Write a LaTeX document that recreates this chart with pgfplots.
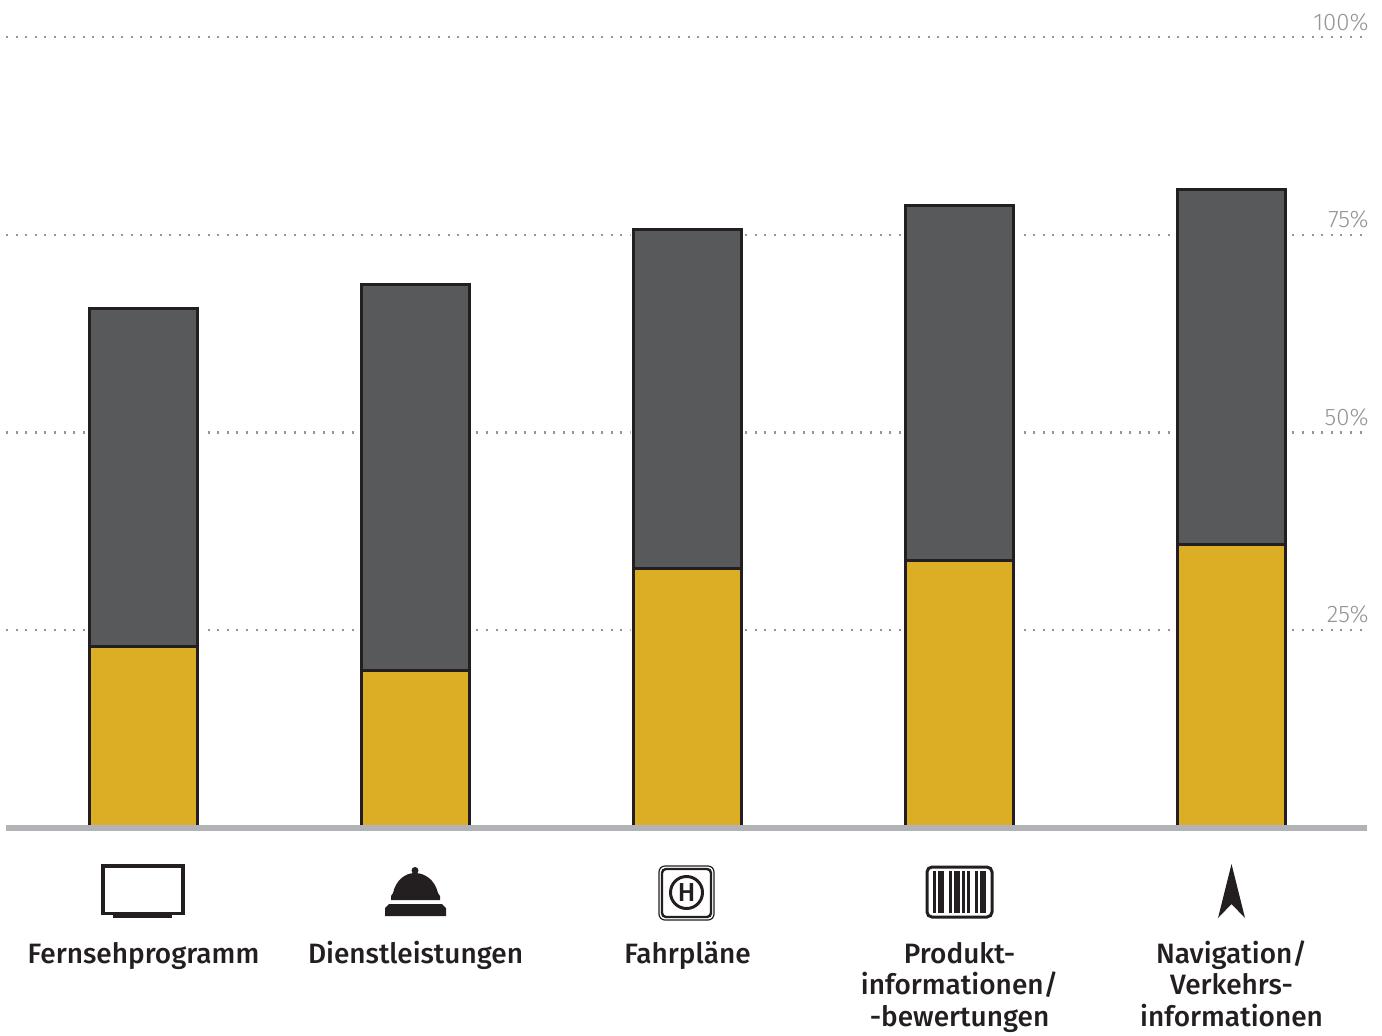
\documentclass[border=0pt]{standalone}
\usepackage{pgfplots}
\pgfplotsset{compat=1.18}
\usepackage{fontspec}
\setmainfont{Fira Sans}
\newfontfamily\labelfont{Fira Sans Medium}
\newfontfamily\tickfont{Fira Sans Light}
\definecolor{gold}{HTML}{DBAE26}
\definecolor{dgrey}{HTML}{58595B}
\definecolor{edge}{HTML}{231F20}
\definecolor{base}{HTML}{B1B3B6}
\definecolor{ticktxt}{HTML}{939598}
\pgfplotstableread{
x total first
0 65.7 22.9
1 68.7 19.9
2 75.7 32.8
3 78.7 33.8
4 80.7 35.8
}\datatable
\begin{document}
\begin{tikzpicture}
\path[use as bounding box] (0,0) rectangle (691pt,-517.5pt);
\begin{axis}[
  at={(3pt,-414pt)}, anchor=south west, scale only axis,
  width=680.5pt, height=395.5pt,
  xmin=-0.5055, xmax=4.498, ymin=0, ymax=100,
  axis x line=bottom, axis y line=none, axis on top,
  axis line style={draw=base, line width=2.6pt, -},
  xtick={0,1,2,3,4},
  xticklabels={\vphantom{/}Fernsehprogramm,\vphantom{/}Dienstleistungen,\vphantom{/}Fahrpläne,\vphantom{/}Produkt-\\informationen/\\-bewertungen,Navigation/\\Verkehrs-\\informationen},
  x tick style={draw=none},
  xticklabel style={align=center, font=\labelfont\fontsize{14}{15.8}\selectfont, text=edge, anchor=north, yshift=-50.6pt},
  ytick=\empty,
  clip=false,
]
% dotted gridlines, interrupted by the white halo of the bars
\addplot[forget plot, line width=1.2pt, draw=ticktxt, dash pattern=on 1pt off 3.8pt] coordinates {(-0.5055,25) (4.498,25) };
\addplot[forget plot, line width=1.2pt, draw=ticktxt, dash pattern=on 1pt off 3.8pt] coordinates {(-0.5055,50) (4.498,50) };
\addplot[forget plot, line width=1.2pt, draw=ticktxt, dash pattern=on 1pt off 3.8pt] coordinates {(-0.5055,75) (4.498,75) };
\addplot[forget plot, line width=1.2pt, draw=ticktxt, dash pattern=on 1pt off 3.8pt] coordinates {(-0.5055,100) (4.498,100) };
\addplot[forget plot, ybar, bar shift=0pt, bar width=57pt, fill=white, draw=none] table[x=x,y=total] {\datatable};
\addplot[ybar, bar shift=0pt, bar width=54.2pt, fill=dgrey, draw=edge, line width=1.6pt] table[x=x,y=total] {\datatable};
\addplot[ybar, bar shift=0pt, bar width=54.2pt, fill=gold, draw=edge, line width=1.6pt] table[x=x,y=first] {\datatable};
\end{axis}
\begin{scope}[x=0.5pt,y=-0.5pt]
% right-hand scale labels
\foreach \yy/\lab in {30/100\%,227.5/75\%,425.5/50\%,622.5/25\%}
  \node[anchor=base east, inner sep=0pt, text=ticktxt, font=\tickfont\fontsize{12}{12}\selectfont] at (1369,\yy) {\lab};
% icons
\draw[edge, line width=1.9pt] (103,866) rectangle (183,913.5);
\fill[edge] (113,915) rectangle (172,918);
\fill[edge] (415,870.5) circle[radius=3.5];
\fill[edge] (391,900) -- (391,896) -- (393,893) .. controls (396,880) and (405,873) .. (415,873) .. controls (425,873) and (435,880) .. (438,893) -- (440,896) -- (440,900) -- cycle;
\fill[edge] (385,916) -- (385,908) -- (389,904) -- (442,904) -- (446,908) -- (446,916) -- cycle;
\draw[edge, line width=0.6pt, rounded corners=3pt] (659,866) rectangle (714,920);
\draw[edge, line width=1.2pt, rounded corners=2pt] (662,869) rectangle (711,917);
\draw[edge, line width=1.5pt] (686.5,892.5) circle[radius=16];
\node[font=\labelfont\fontsize{13}{13}\selectfont, text=edge, inner sep=0pt] at (686.5,892.5) {H};
\draw[edge, line width=1.5pt, rounded corners=2.5pt] (927,867) rectangle (992,917);
\foreach \a/\b in {933/936,938/944,949/952,954/960,962/965,967/970,975/978,980/986}
  \fill[edge] (\a,871) rectangle (\b,913);
\fill[edge] (1231.5,864) -- (1245,918) -- (1231.5,904) -- (1218,918) -- cycle;
\end{scope}
\end{tikzpicture}
\end{document}
